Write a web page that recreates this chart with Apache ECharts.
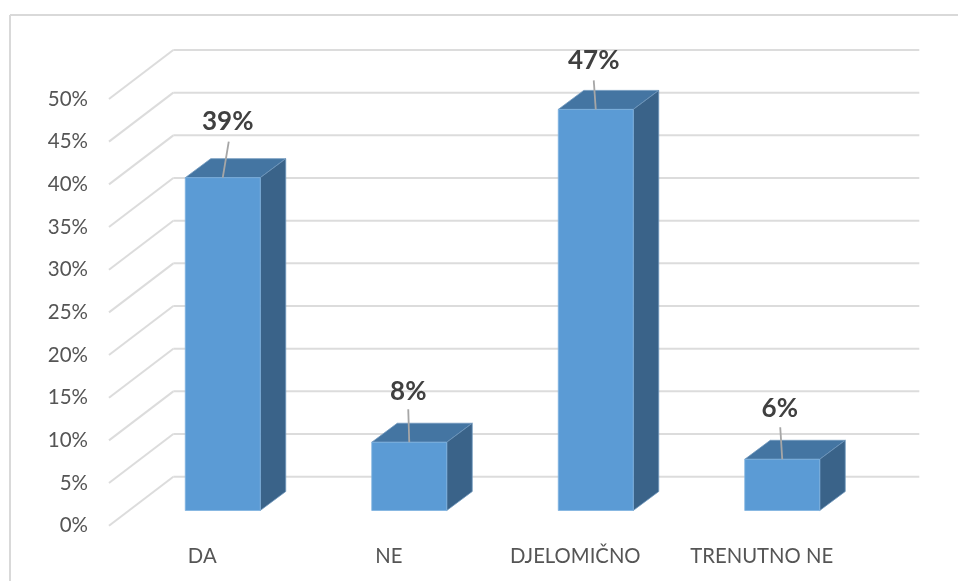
<!DOCTYPE html>
<html><head><meta charset="utf-8">
<style>html,body{margin:0;padding:0;background:#fff}#c{width:958px;height:581px}</style>
<script src="https://cdn.jsdelivr.net/npm/echarts@6/dist/echarts.min.js"></script>
</head><body><div id="c"></div>
<script>
const categories = ['DA', 'NE', 'DJELOMIČNO', 'TRENUTNO NE'];
const shares = [39, 8, 47, 6];
const yTicks = [0, 5, 10, 15, 20, 25, 30, 35, 40, 45, 50];

const FONT = 'Lato, "Open Sans", sans-serif';
const wallDx = 64.3, wallDy = -49;
const barDx = 20.5, barDy = -15.2, depthX = 25.5, depthY = -19;
const barFrac = 0.402;
// label nudges relative to the bar's top centre: [textDx, textDy, leaderTopDx, leaderTopDy]
const labelNudges = [[5,-56,6,-36],[-1,-51,-1,-33],[-2,-49,-2,-29],[-2.5,-51,-2,-32]];

const chart = echarts.init(document.getElementById('c'), null, {renderer:'canvas'});
function line(x1,y1,x2,y2,stroke,w){return {type:'line',shape:{x1,y1,x2,y2},style:{stroke,lineWidth:w,fill:null},silent:true};}
function poly(points,fill,stroke){return {type:'polygon',shape:{points},style:{fill,stroke,lineWidth:0.8},silent:true};}

chart.setOption({
  animation:false,
  backgroundColor:'#fff',
  graphic:[
    {type:'line',shape:{x1:10,y1:15,x2:10,y2:581},style:{stroke:'#d9d9d9',lineWidth:2},silent:true},
    {type:'line',shape:{x1:10,y1:15,x2:958,y2:15},style:{stroke:'#d9d9d9',lineWidth:2},silent:true}
  ],
  grid:{left:109,right:103,top:99,bottom:55.3,containLabel:false},
  xAxis:{type:'category',data:categories,axisLine:{show:false},axisTick:{show:false},
    axisLabel:{color:'#555555',fontFamily:FONT,fontSize:20.3,margin:21,interval:0}},
  yAxis:{type:'value',min:0,max:50,interval:5,splitLine:{show:false},axisLine:{show:false},axisTick:{show:false},
    axisLabel:{color:'#555555',fontFamily:FONT,fontSize:20.5,margin:21,padding:[6,0,0,0],formatter:'{value}%'}},
  series:[
    {type:'custom',coordinateSystem:'cartesian2d',z:1,silent:true,clip:false,
     data:yTicks.map(v=>[0,v]),
     renderItem(params,api){
       const cs=params.coordSys, y=api.coord([0,api.value(1)])[1];
       return {type:'group',children:[
         line(cs.x,y,cs.x+wallDx,y+wallDy,'#dcdcdc',2),
         line(cs.x+wallDx,y+wallDy,cs.x+cs.width+wallDx,y+wallDy,'#dcdcdc',2)
       ]};
     }},
    {type:'custom',coordinateSystem:'cartesian2d',z:2,silent:true,clip:false,
     data:shares.map((v,i)=>[i,v]),
     renderItem(params,api){
       const i=api.value(0), v=api.value(1);
       const top=api.coord([i,v]), base=api.coord([i,0]);
       const w=api.size([1,0])[0]*barFrac;
       const xl=top[0]+barDx-w/2, xr=xl+w, yt=top[1]+barDy, yb=base[1]+barDy;
       const cx=xl+w/2, n=labelNudges[i];
       return {type:'group',children:[
         poly([[xl,yt],[xr,yt],[xr+depthX,yt+depthY],[xl+depthX,yt+depthY]],'#4475a2','#6f97bc'),
         poly([[xr,yt],[xr+depthX,yt+depthY],[xr+depthX,yb+depthY],[xr,yb]],'#3a6389','#6f97bc'),
         poly([[xl,yt],[xr,yt],[xr,yb],[xl,yb]],'#5b9bd5','#7fb2e0'),
         line(cx,yt,cx+n[2],yt+n[3],'#a6a6a6',1.8),
         {type:'text',x:cx+n[0],y:yt+n[1],style:{text:v+'%',fill:'#404040',font:'bold 26px '+FONT,align:'center',verticalAlign:'middle'},silent:true}
       ]};
     }}
  ]
});
</script></body></html>
